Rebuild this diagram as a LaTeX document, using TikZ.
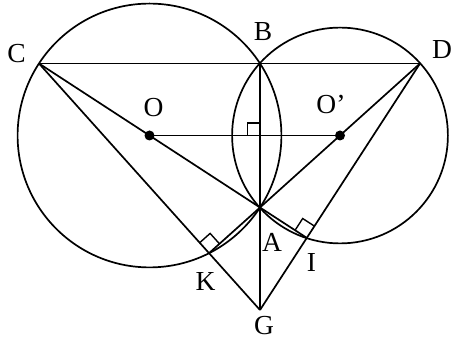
\documentclass[tikz,border=0pt]{standalone}
\usepackage{fontspec}
\setmainfont{Liberation Serif}
\usetikzlibrary{calc}
\begin{document}
\begin{tikzpicture}[x=1pt,y=-1pt,line width=1.7pt,line join=miter,
  lbl/.style={inner sep=0pt,font=\fontsize{27.5}{30}\selectfont},
  dotpt/.style={fill=black,draw=none},
  ramark/.style={line width=1.4pt}]
\useasboundingbox (0,0) rectangle (453,344);
% points
\coordinate (A) at (260,207.5);
\coordinate (B) at (260,63.5);
\coordinate (O) at (149.5,135.5);
\coordinate (O2) at (340,135.5);
\coordinate (C) at ($(A)!2!(O)$);
\coordinate (D) at ($(A)!2!(O2)$);
\coordinate (G) at (260,310);
\coordinate (K) at ($(C)!(A)!(G)$);
\coordinate (I) at ($(D)!(A)!(G)$);
\coordinate (M) at ($(O)!(A)!(O2)$);
% circles
\draw (O) circle (131.9pt);
\draw (O2) circle (107.9pt);
% segments
\draw (C) -- (D);
\draw (C) -- (A);
\draw (D) -- (A);
\draw (C) -- (G);
\draw (D) -- (G);
\draw (B) -- (G);
\draw (O) -- (O2);
\draw (A) -- (K);
\draw (A) -- (I);
% right-angle marks
\draw[ramark] let \p1=($(K)!14pt!(C)$), \p2=($(K)!14pt!(A)$), \p3=(K) in (\p1) -- ($(\p1)+(\p2)-(\p3)$) -- (\p2);
\draw[ramark] let \p1=($(I)!14pt!(D)$), \p2=($(I)!14pt!(A)$), \p3=(I) in (\p1) -- ($(\p1)+(\p2)-(\p3)$) -- (\p2);
\draw[ramark] let \p1=($(M)!12.5pt!(O)$), \p2=($(M)!12.5pt!(B)$), \p3=(M) in (\p1) -- ($(\p1)+(\p2)-(\p3)$) -- (\p2);
% dots
\fill[dotpt] (O) circle (5pt);
\fill[dotpt] (O2) circle (5pt);
% labels
\node[lbl] (lC) at (16.5,53.5) {C};
\node[lbl] (lB) at (263,32) {B};
\node[lbl] (lD) at (442,50) {D};
\node[lbl] (lO) at (153.5,108) {O};
\node[lbl] (lO2) at (331,104) {O’};
\node[lbl] (lA) at (272,242.5) {A};
\node[lbl] (lK) at (205.5,281) {K};
\node[lbl] (lI) at (311.5,262.5) {I};
\node[lbl] (lG) at (264,325.5) {G};
\end{tikzpicture}
\end{document}
